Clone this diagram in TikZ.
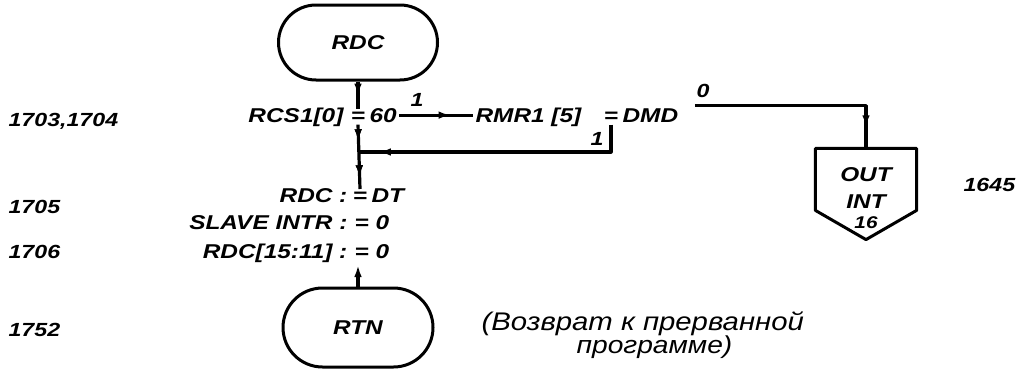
\documentclass[tikz,border=0pt]{standalone}
\usepackage{fontspec}
\setmainfont{Liberation Sans}
\newfontfamily\hand[FakeStretch=1.22]{Liberation Sans}
\newfontfamily\handn[FakeStretch=1.15]{Liberation Sans}
\usetikzlibrary{shapes.misc,arrows.meta,decorations.markings}
\begin{document}
\begin{tikzpicture}[x=1pt,y=-1pt,line width=3.2pt,
  txt/.style={font=\hand\bfseries\itshape\fontsize{20}{20}\selectfont,inner sep=1pt},
  num/.style={font=\hand\bfseries\itshape\fontsize{19}{19}\selectfont,inner sep=0pt},
  note/.style={font=\handn\itshape\fontsize{24.5}{24.5}\selectfont,inner sep=0pt},
  term/.style={rounded rectangle,draw,line width=3pt,inner sep=0pt,font=\hand\bfseries\itshape\fontsize{20}{20}\selectfont},
  ar/.style={postaction={decorate},decoration={markings,mark=at position #1 with {\arrow{Latex[length=16pt,width=7pt]}}}},
  tip/.style={-{Latex[length=16pt,width=7pt]}}
]
\useasboundingbox (0,0) rectangle (1026,372);
% terminals
\node[term,minimum width=159pt,minimum height=75pt] (rdc) at (358,42.5) {RDC};
\node[term,minimum width=150pt,minimum height=79pt] (rtn) at (358,327.5) {RTN};
% row 1
\node[txt,anchor=base] (eq1) at (358,122) {=};
\node[txt,anchor=base east] (rcs) at (346,122) {RCS1[0]};
\node[txt,anchor=base west] (n60) at (367,122) {60};
\node[txt,anchor=base west] (rmr) at (473,122) {RMR1 [5]};
\node[txt,anchor=base] (eq2) at (611,122) {=};
\node[txt,anchor=base west] (dmd) at (620,122) {DMD};
% labels on branches
\node[num] (l1) at (417,100) {1};
\node[num] (l0) at (703,91) {0};
\node[num] (l1b) at (597,139) {1};
% OUT INT 16
\node[minimum width=98pt,minimum height=88pt,inner sep=0pt] (out) at (866,194) {};
\draw[line width=3pt,line join=round] (out.north west) -- (out.north east) -- ([yshift=-62pt]out.north east)
  -- (out.south) -- ([yshift=-62pt]out.north west) -- cycle;
\node[txt,anchor=base] (o1) at (866,181) {OUT};
\node[txt,anchor=base] (o2) at (866,208) {INT};
\node[txt,anchor=base,font=\hand\bfseries\itshape\fontsize{17}{17}\selectfont] (o3) at (866,228) {16};
% statements
\node[txt,anchor=base] (eq3) at (360,202) {=};
\node[txt,anchor=base east] (s1a) at (350,202) {RDC :};
\node[txt,anchor=base west] (s1b) at (369,202) {DT};
\node[txt,anchor=base east] (s2a) at (350,229) {SLAVE INTR :};
\node[txt,anchor=base west] (s2b) at (352,229) {= 0};
\node[txt,anchor=base east] (s3a) at (350,258) {RDC[15:11] :};
\node[txt,anchor=base west] (s3b) at (352,258) {= 0};
\coordinate (s3end) at (358,261);
\coordinate (j) at (358,152);
% line numbers
\node[num,anchor=base west] (a1) at (7,126) {1703,1704};
\node[num,anchor=base west] (a2) at (7,213) {1705};
\node[num,anchor=base west] (a3) at (7,258) {1706};
\node[num,anchor=base west] (a4) at (7,336) {1752};
\node[num,anchor=base west] (a5) at (962,191) {1645};
% comment
\node[note,anchor=base west,font=\handn\itshape\fontsize{25.5}{25.5}\selectfont] (c1) at (480,330) {(Возврат к прерванной};
\node[note,anchor=base west] (c2) at (575,353) {программе)};
% connectors
\draw[ar=0.66] (rdc.south) -- (eq1.north);
\draw[ar=0.75] (n60.east) -- (rmr.west |- n60.east);
\draw[ar=0.32,postaction={decorate},decoration={markings,mark=at position 0.88 with {\arrow{Latex[length=16pt,width=7pt]}}}] (eq1.south) -- (eq3.north);
\draw[ar=0.94,line join=round] (eq2.south) -- (eq2.south |- j) -- (j);
\draw[ar=0.92,line join=round] ([xshift=14pt]dmd.north east) -- (out.north |- dmd.north east) -- (out.north);
\draw[tip] (rtn.north) -- (s3end);
\end{tikzpicture}
\end{document}
